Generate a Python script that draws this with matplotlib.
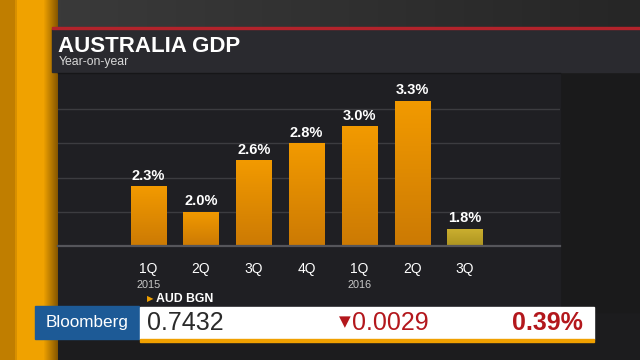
import numpy as np
import matplotlib
matplotlib.use('Agg')
import matplotlib.pyplot as plt
from matplotlib.patches import Rectangle
from matplotlib.colors import LinearSegmentedColormap

# ---- data ----
quarters = ['1Q', '2Q', '3Q', '4Q', '1Q', '2Q', '3Q']
year_labels = ['2015', '', '', '', '2016', '', '']
gdp = [2.3, 2.0, 2.6, 2.8, 3.0, 3.3, 1.8]
value_labels = ['2.3%', '2.0%', '2.6%', '2.8%', '3.0%', '3.3%', '1.8%']
title = 'AUSTRALIA GDP'
subtitle = 'Year-on-year'
ticker = 'AUD BGN'
price = '0.7432'
direction = '▼'
change = '0.0029'
pct = '0.39%'

plt.rcParams['font.family'] = ['Liberation Sans', 'DejaVu Sans']

fig = plt.figure(figsize=(6.4, 3.6), dpi=100)
fig.patch.set_facecolor('#1c1c1e')

# background canvas in pixel coordinates
bg = fig.add_axes([0, 0, 1, 1])
bg.set_xlim(0, 640)
bg.set_ylim(360, 0)
bg.axis('off')

# top area gradient
top = np.linspace(0, 1, 200)[None, :, None]
c1 = np.array([0x3c, 0x3c, 0x3c]) / 255
c2 = np.array([0x26, 0x26, 0x26]) / 255
topimg = c1 * (1 - top) + c2 * top
bg.imshow(topimg, extent=[0, 640, 28, 0], aspect='auto', zorder=0)

# lower dark area
bg.add_patch(Rectangle((0, 28), 640, 332, color='#1c1c1e', zorder=0))
bg.add_patch(Rectangle((560, 72), 80, 240, color='#1a1a1b', zorder=0.5))

# chart panel
bg.add_patch(Rectangle((58, 72), 502, 235, color='#1f1f23', zorder=0.5))
# title panel
bg.add_patch(Rectangle((52, 29), 588, 43, color='#2a2a2f', zorder=1))
bg.add_patch(Rectangle((52, 26.5), 588, 2.5, color='#b3232b', zorder=1.2))
bg.plot([58, 560], [72.5, 72.5], color='#161618', lw=1, zorder=1.1)

# left orange strip
xs = np.arange(58)
cols = []
for x in xs:
    if x < 15:
        c = np.array([0xc0, 0x7e, 0x00])
    elif x < 17:
        c = np.array([0xd8, 0x90, 0x00])
    elif x < 43:
        c = np.array([0xf0, 0xa2, 0x00])
    else:
        t = (x - 43) / 15
        c = np.array([0xf0, 0xa2, 0x00]) * (1 - t) + np.array([0x80, 0x52, 0x00]) * t
    cols.append(c / 255)
strip = np.array(cols)[None, :, :]
bg.imshow(strip, extent=[0, 58, 360, 0], aspect='auto', zorder=0.8)
bg.set_xlim(0, 640)
bg.set_ylim(360, 0)

# title texts
bg.text(58, 52, title, color='white', fontsize=16, fontweight='bold',
        va='baseline', ha='left', zorder=3)
bg.text(58.5, 64.5, subtitle, color='#d8d8d8', fontsize=8.8,
        va='baseline', ha='left', zorder=3)

# ---- chart axes ----
ax = fig.add_axes([58 / 640, (360 - 246) / 360, 502 / 640, 174 / 360])
ax.patch.set_alpha(0)
x = np.arange(len(gdp))
width = 0.67
ybase = 1.6

cm_orange = LinearSegmentedColormap.from_list('o', ['#cc7a04', '#f29a00'])
cm_yellow = LinearSegmentedColormap.from_list('y', ['#ad9420', '#ccb030'])
grad = np.linspace(0, 1, 100)[:, None]
for i, v in enumerate(gdp):
    cmap = cm_yellow if i == len(gdp) - 1 else cm_orange
    b = ax.bar(x[i], v - ybase, bottom=ybase, width=width, color='none',
               edgecolor='none', zorder=2)[0]
    im = ax.imshow(grad, extent=[x[i] - width / 2, x[i] + width / 2, ybase, v],
                   origin='lower', aspect='auto', cmap=cmap, zorder=2)
    im.set_clip_path(b)
    ax.annotate(value_labels[i], (x[i], v), xytext=(0, 2.5),
                textcoords='offset points', ha='center', va='bottom',
                color='white', fontsize=10.5, fontweight='bold')
    ax.annotate(quarters[i], (x[i], ybase), xytext=(0, -16.5),
                textcoords='offset points', ha='center', va='center',
                color='white', fontsize=10, annotation_clip=False)
    if year_labels[i]:
        ax.annotate(year_labels[i], (x[i], ybase), xytext=(0, -28.3),
                    textcoords='offset points', ha='center', va='center',
                    color='#c8c8c8', fontsize=7.8, annotation_clip=False)

ax.set_xlim(-1.71, 7.80)
ax.set_ylim(ybase, 3.633)
ax.set_yticks([2.0, 2.4, 2.8, 3.2])
ax.set_xticks([])
ax.tick_params(left=False, labelleft=False)
ax.grid(axis='y', color='#3c3c40', lw=1, zorder=1)
ax.set_axisbelow(True)
for s in ax.spines.values():
    s.set_visible(False)
ax.axhline(ybase, color='#55555a', lw=1.6, zorder=3, clip_on=False)

# ---- bottom ticker ----
bg.text(147, 298.5, '▶', color='#f0a000', fontsize=6, va='center', ha='left',
        family='DejaVu Sans', zorder=3)
bg.text(156, 298.5, ticker, color='white', fontsize=8.8, fontweight='bold',
        va='center', ha='left', zorder=3)
bg.add_patch(Rectangle((35, 306), 104, 33, color='#1d5a96', zorder=3))
bg.text(87, 322.5, 'Bloomberg', color='white', fontsize=12.3, va='center',
        ha='center', zorder=4)
bg.add_patch(Rectangle((140, 307), 454, 32, color='white', zorder=3))
bg.add_patch(Rectangle((140, 339), 454, 3, color='#f0a000', zorder=3))
bg.text(147, 323.5, price, color='#2a2a2a', fontsize=18, va='center',
        ha='left', zorder=4)
bg.text(339, 322, direction, color='#b3171c', fontsize=11, va='center',
        ha='left', family='DejaVu Sans', zorder=4)
bg.text(352, 323.5, change, color='#b3171c', fontsize=18, va='center',
        ha='left', zorder=4)
bg.text(583, 323.5, pct, color='#b3171c', fontsize=18, fontweight='bold',
        va='center', ha='right', zorder=4)

fig.savefig('out.png', dpi=100, facecolor=fig.get_facecolor())
